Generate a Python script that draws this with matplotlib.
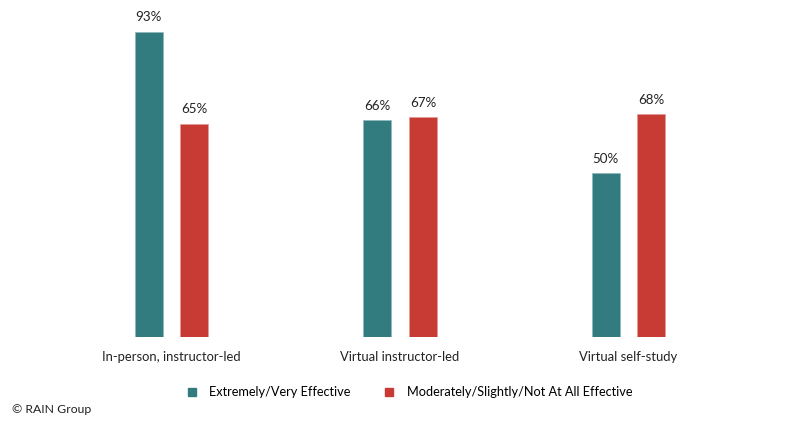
import matplotlib
matplotlib.use("Agg")
import matplotlib.pyplot as plt
from matplotlib.lines import Line2D
import numpy as np

categories = ["In-person, instructor-led", "Virtual instructor-led", "Virtual self-study"]
series_names = ["Extremely/Very Effective", "Moderately/Slightly/Not At All Effective"]
effective = [93, 66, 50]
less_effective = [65, 67, 68]
colors = ["#327c80", "#c83a34"]

plt.rcParams['font.family'] = ['Lato', 'DejaVu Sans']

fig = plt.figure(figsize=(8.0, 4.23), dpi=100)
ax = fig.add_axes([0, 0.2033, 1, 0.7967])

x = np.arange(len(categories))
w = 0.1225
off = 0.1
b1 = ax.bar(x - off, effective, w, color=colors[0], edgecolor="#8fb7b9", linewidth=0.5)
b2 = ax.bar(x + off, less_effective, w, color=colors[1], edgecolor="#e39a95", linewidth=0.5)

for bars, vals in ((b1, effective), (b2, less_effective)):
    for rect, v in zip(bars, vals):
        ax.annotate(f"{v}%", (rect.get_x() + rect.get_width() / 2, rect.get_height()),
                    xytext=(0, 6), textcoords="offset points", ha="center", va="bottom",
                    fontsize=9.6, color="#222222")

ax.set_xlim(-0.7505, 2.75)
ax.set_ylim(0, 102.7)
ax.set_xticks(x)
ax.set_xticklabels(categories, fontsize=9.4, color="#222222")
ax.tick_params(axis="x", length=0, pad=10)
ax.set_yticks([])
for s in ax.spines.values():
    s.set_visible(False)

handles = [Line2D([], [], marker='s', linestyle='none', markersize=5.5, color=c) for c in colors]
fig.legend(handles, series_names, loc="center", bbox_to_anchor=(0.511, 0.073),
           ncol=2, frameon=False, fontsize=9.2, handletextpad=0.9, columnspacing=2.5,
           handlelength=1.0)
fig.text(0.015, 0.031, "© RAIN Group", fontsize=8.8, color="#222222", va="center", ha="left")

fig.savefig("out.png", dpi=100, facecolor="white")
